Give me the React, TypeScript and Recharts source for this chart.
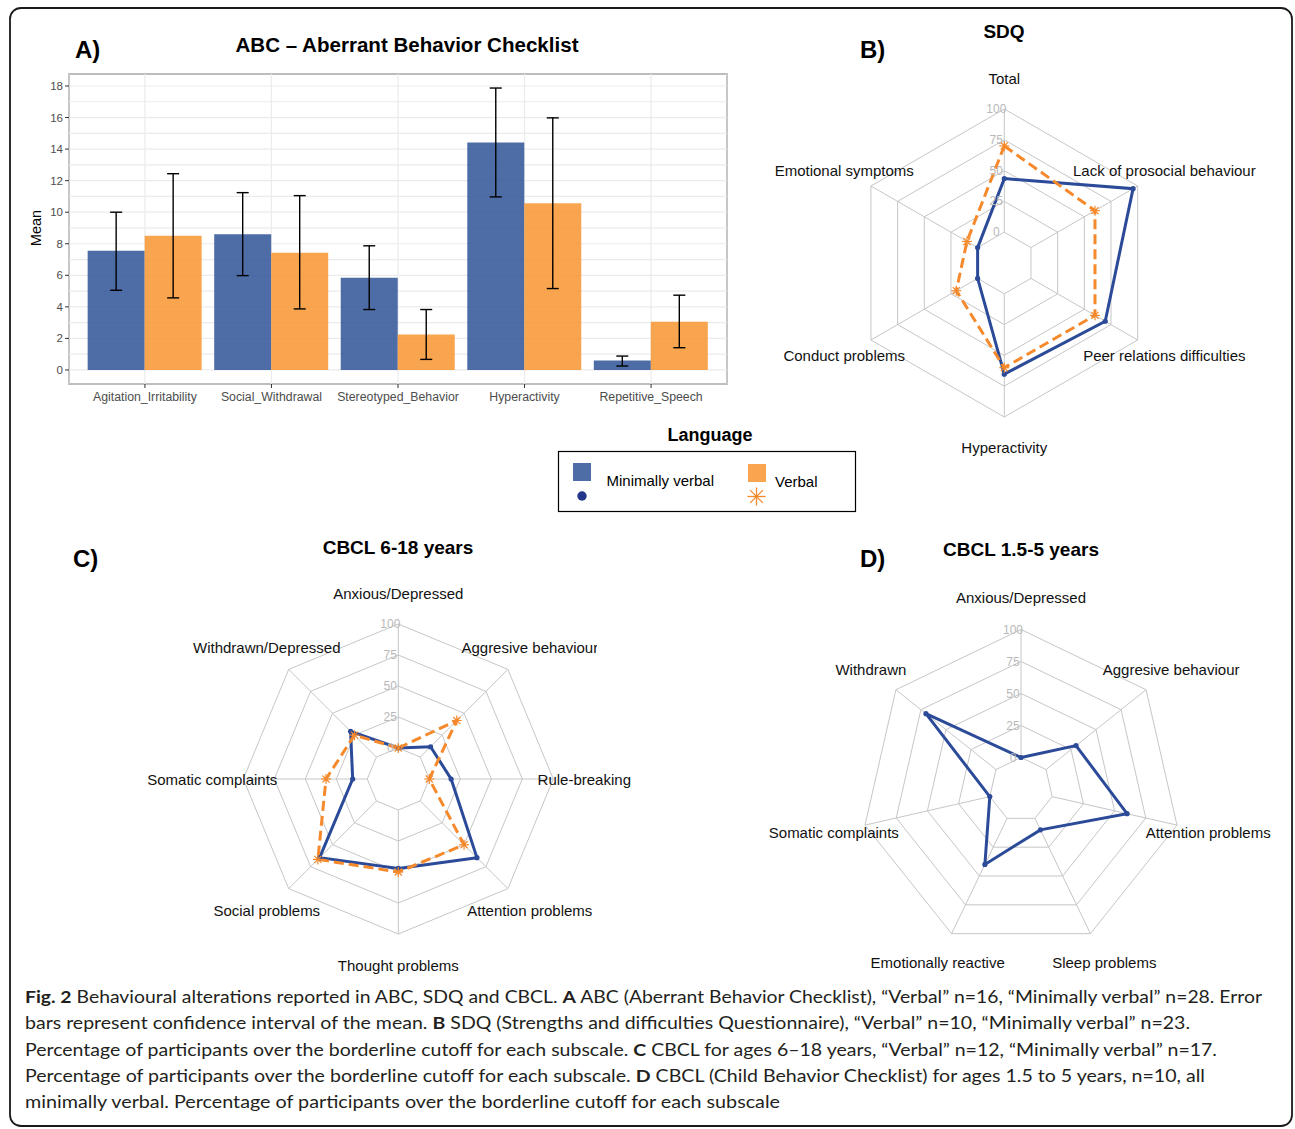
import React from "react";
import {
  BarChart,
  Bar,
  XAxis,
  YAxis,
  CartesianGrid,
  ErrorBar,
  RadarChart,
  Radar,
  PolarGrid,
  PolarAngleAxis,
  PolarRadiusAxis,
} from "recharts";

// ---------------- DATA ----------------
const abcCategories = [
  "Agitation_Irritability",
  "Social_Withdrawal",
  "Stereotyped_Behavior",
  "Hyperactivity",
  "Repetitive_Speech",
];
const abcMinimalMean = [7.55, 8.6, 5.85, 14.42, 0.6];
const abcMinimalLow = [5.05, 5.98, 3.83, 10.97, 0.25];
const abcMinimalHigh = [10.0, 11.24, 7.87, 17.87, 0.88];
const abcVerbalMean = [8.5, 7.43, 2.25, 10.57, 3.05];
const abcVerbalLow = [4.57, 3.87, 0.67, 5.16, 1.41];
const abcVerbalHigh = [12.44, 11.05, 3.83, 15.98, 4.74];
const abcYTicks = [0, 1, 2, 3, 4, 5, 6, 7, 8, 9, 10, 11, 12, 13, 14, 15, 16, 17, 18];

const sdqAxes = [
  "Total",
  "Lack of prosocial behaviour",
  "Peer relations difficulties",
  "Hyperactivity",
  "Conduct problems",
  "Emotional symptoms",
];
const sdqMinimal = [43.5, 95.7, 69.6, 65.2, 0, 0];
const sdqVerbal = [70, 60, 60, 60, 20, 10];

const cbclOlderAxes = [
  "Anxious/Depressed",
  "Aggresive behaviour",
  "Rule-breaking",
  "Attention problems",
  "Thought problems",
  "Social problems",
  "Somatic complaints",
  "Withdrawn/Depressed",
];
const cbclOlderMinimal = [0, 11.8, 17.6, 64.7, 47.1, 64.7, 11.8, 29.4];
const cbclOlderVerbal = [0, 41.7, 0, 50, 50, 66.7, 33.3, 25];

const cbclYoungAxes = [
  "Anxious/Depressed",
  "Aggresive behaviour",
  "Attention problems",
  "Sleep problems",
  "Emotionally reactive",
  "Somatic complaints",
  "Withdrawn",
];
const cbclYoungMinimal = [0, 30, 60, 10, 40, 0, 70];

const radarTicks = [0, 25, 50, 75, 100];

// ---------------- STYLE ----------------
const FONT = '"Liberation Sans", Arial, Helvetica, sans-serif';
const CAPTION_FONT = 'Lato, "Open Sans", sans-serif';
const BLUE_BAR = "#2F5496";
const ORANGE_BAR = "#F8942F";
const BLUE_LINE = "#2B4A98";
const ORANGE_LINE = "#F5892B";
const GRID = "#C6C6C6";

const abcData = abcCategories.map((name, i) => ({
  pos: i + 1,
  name,
  minimal: abcMinimalMean[i],
  minimalErr: [abcMinimalMean[i] - abcMinimalLow[i], abcMinimalHigh[i] - abcMinimalMean[i]],
  verbal: abcVerbalMean[i],
  verbalErr: [abcVerbalMean[i] - abcVerbalLow[i], abcVerbalHigh[i] - abcVerbalMean[i]],
}));

const PLOT_LEFT = 69;
const PLOT_BOTTOM = 384;

const YTick = (props: any) => {
  const { y, payload } = props;
  if (payload.value % 2 !== 0) return <g />;
  return (
    <g>
      <line x1={PLOT_LEFT - 4} x2={PLOT_LEFT} y1={y} y2={y} stroke="#333" strokeWidth={1} />
      <text x={PLOT_LEFT - 6} y={y} textAnchor="end" dominantBaseline="central" fontSize={11.5} fill="#4D4D4D" fontFamily={FONT}>
        {payload.value}
      </text>
    </g>
  );
};

const XTick = (props: any) => {
  const { x, payload } = props;
  return (
    <g>
      <line x1={x} x2={x} y1={PLOT_BOTTOM} y2={PLOT_BOTTOM + 4} stroke="#333" strokeWidth={1} />
      <text x={x} y={PLOT_BOTTOM + 13} textAnchor="middle" dominantBaseline="central" fontSize={12.3} fill="#4D4D4D" fontFamily={FONT}>
        {abcCategories[payload.value - 1]}
      </text>
    </g>
  );
};

function makeAngleTick(cx: number, cy: number, R: number) {
  return (props: any) => {
    const { x, y, payload, index } = props;
    const dx = x - cx;
    const dy = y - cy;
    const len = Math.hypot(dx, dy) || 1;
    const lx = cx + (dx / len) * 1.2 * R;
    const ly = cy + (dy / len) * 1.2 * R;
    return (
      <text key={index} x={lx} y={ly} textAnchor="middle" dominantBaseline="central" fontSize={15} fill="#111" fontFamily={FONT}>
        {payload.value}
      </text>
    );
  };
}

const RadiusTick = (props: any) => {
  const { x, y, payload, index } = props;
  return (
    <text key={index} x={x - 8} y={y} textAnchor="middle" dominantBaseline="central" fontSize={12} fill="#B9B9B9" fontFamily={FONT}>
      {payload.value}
    </text>
  );
};

const blueDot = (p: any) => (
  <circle key={`b${p.index}`} cx={p.cx} cy={p.cy} r={2.6} fill={BLUE_LINE} stroke="none" />
);

const Asterisk = ({ x, y, s, w }: { x: number; y: number; s: number; w: number }) => {
  const d = s * 0.7071;
  return (
    <g stroke={ORANGE_LINE} strokeWidth={w} fill="none">
      <line x1={x - s} y1={y} x2={x + s} y2={y} />
      <line x1={x} y1={y - s} x2={x} y2={y + s} />
      <line x1={x - d} y1={y - d} x2={x + d} y2={y + d} />
      <line x1={x - d} y1={y + d} x2={x + d} y2={y - d} />
    </g>
  );
};

const orangeDot = (p: any) => (
  <g key={`o${p.index}`}>
    <Asterisk x={p.cx} y={p.cy} s={5} w={1.2} />
  </g>
);

type Series = { key: string; values: number[]; color: string; dashed: boolean };

function RadarPanel({
  axes,
  series,
  cx,
  cy,
  R,
  width,
  height,
}: {
  axes: string[];
  series: Series[];
  cx: number;
  cy: number;
  R: number;
  width: number;
  height: number;
}) {
  const data = axes.map((a, i) => {
    const row: any = { axis: a };
    series.forEach((s) => (row[s.key] = s.values[i]));
    return row;
  });
  return (
    <RadarChart
      width={width}
      height={height}
      data={data}
      cx={cx}
      cy={cy}
      innerRadius={R / 5}
      outerRadius={R}
      startAngle={90}
      endAngle={-270}
      margin={{ top: 0, right: 0, bottom: 0, left: 0 }}
    >
      <PolarGrid gridType="polygon" stroke={GRID} strokeWidth={1} polarRadius={[1, 2, 3, 4, 5].map((k) => (k * R) / 5)} />
      <PolarAngleAxis dataKey="axis" tick={makeAngleTick(cx, cy, R)} tickLine={false} axisLine={false} />
      <PolarRadiusAxis
        angle={90}
        type="number"
        domain={[0, 100]}
        ticks={radarTicks as any}
        tick={RadiusTick}
        axisLine={false}
        tickLine={false}
      />
      {series.map((s) => (
        <Radar
          key={s.key}
          dataKey={s.key}
          stroke={s.color}
          strokeWidth={3}
          strokeDasharray={s.dashed ? "10 5" : undefined}
          fill="none"
          fillOpacity={0}
          dot={s.dashed ? orangeDot : blueDot}
          isAnimationActive={false}
        />
      ))}
    </RadarChart>
  );
}

const captionLines: { parts: { t: string; b?: boolean }[]; len: number }[] = [
  {
    parts: [
      { t: "Fig. 2", b: true },
      { t: " Behavioural alterations reported in ABC, SDQ and CBCL. " },
      { t: "A", b: true },
      { t: " ABC (Aberrant Behavior Checklist), \u201cVerbal\u201d n=16, \u201cMinimally verbal\u201d n=28. Error" },
    ],
    len: 1237,
  },
  {
    parts: [
      { t: "bars represent confidence interval of the mean. " },
      { t: "B", b: true },
      { t: " SDQ (Strengths and difficulties Questionnaire), \u201cVerbal\u201d n=10, \u201cMinimally verbal\u201d n=23." },
    ],
    len: 1165,
  },
  {
    parts: [
      { t: "Percentage of participants over the borderline cutoff for each subscale. " },
      { t: "C", b: true },
      { t: " CBCL for ages 6\u201318 years, \u201cVerbal\u201d n=12, \u201cMinimally verbal\u201d n=17." },
    ],
    len: 1192,
  },
  {
    parts: [
      { t: "Percentage of participants over the borderline cutoff for each subscale. " },
      { t: "D", b: true },
      { t: " CBCL (Child Behavior Checklist) for ages 1.5 to 5 years, n=10, all" },
    ],
    len: 1180,
  },
  {
    parts: [{ t: "minimally verbal. Percentage of participants over the borderline cutoff for each subscale" }],
    len: 755,
  },
];

export default function App() {
  return (
    <div style={{ position: "absolute", left: 0, top: 0, width: 1295, height: 1129, background: "#fff", overflow: "hidden" }}>
      {/* static overlay: border, titles, legend, caption */}
      <svg width={1295} height={1129} style={{ position: "absolute", left: 0, top: 0 }}>
        <rect x={10} y={8} width={1282} height={1118} rx={11} ry={11} fill="none" stroke="#1a1a1a" strokeWidth={1.8} />
        {/* Panel A */}
        <text x={75} y={57.5} fontSize={24} fontWeight="bold" fontFamily={FONT} fill="#000">A)</text>
        <text x={407} y={51.7} fontSize={19.5} fontWeight="bold" fontFamily={FONT} textAnchor="middle" fill="#000" textLength={343} lengthAdjust="spacingAndGlyphs">
          ABC – Aberrant Behavior Checklist
        </text>
        <text transform="translate(35.5,228) rotate(-90)" fontSize={14.5} fontFamily={FONT} textAnchor="middle" dominantBaseline="central" fill="#000">
          Mean
        </text>
        <rect x={69} y={74} width={658} height={310} fill="none" stroke="#333" strokeWidth={1.1} />
        {/* Panel B */}
        <text x={860} y={57.5} fontSize={24} fontWeight="bold" fontFamily={FONT} fill="#000">B)</text>
        <text x={1004} y={38.3} fontSize={19} fontWeight="bold" fontFamily={FONT} textAnchor="middle" fill="#000">SDQ</text>
        {/* Legend */}
        <text x={710} y={440.7} fontSize={18} fontWeight="bold" fontFamily={FONT} textAnchor="middle" fill="#000">Language</text>
        <rect x={558.5} y={451.5} width={297} height={60} fill="none" stroke="#000" strokeWidth={1.2} />
        <rect x={573} y={463} width={18} height={18} fill={BLUE_BAR} fillOpacity={0.85} />
        <circle cx={582} cy={496} r={4.7} fill="#22378A" />
        <text x={606.5} y={486} fontSize={15} fontFamily={FONT} fill="#000">Minimally verbal</text>
        <rect x={748} y={464} width={18} height={18} fill={ORANGE_BAR} fillOpacity={0.85} />
        <Asterisk x={756.5} y={496.5} s={9} w={1.3} />
        <text x={775} y={486.7} fontSize={15} fontFamily={FONT} fill="#000">Verbal</text>
        {/* Panel C */}
        <text x={73} y={567} fontSize={24} fontWeight="bold" fontFamily={FONT} fill="#000">C)</text>
        <text x={398} y={554} fontSize={19} fontWeight="bold" fontFamily={FONT} textAnchor="middle" fill="#000">CBCL 6-18 years</text>
        {/* Panel D */}
        <text x={860} y={567} fontSize={24} fontWeight="bold" fontFamily={FONT} fill="#000">D)</text>
        <text x={1021} y={556} fontSize={19} fontWeight="bold" fontFamily={FONT} textAnchor="middle" fill="#000">CBCL 1.5-5 years</text>
        {/* Caption */}
        {captionLines.map((line, li) => (
          <text
            key={li}
            x={25}
            y={1003.3 + li * 26.15}
            fontSize={17.5}
            fontFamily={CAPTION_FONT}
            fill="#231F20"
            textLength={line.len}
            lengthAdjust="spacingAndGlyphs"
            style={{ whiteSpace: "pre" }}
          >
            {line.parts.map((p, pi) => (
              <tspan key={pi} fontWeight={p.b ? "bold" : "normal"}>
                {p.t}
              </tspan>
            ))}
          </text>
        ))}
      </svg>

      {/* Panel A: bar chart */}
      <div style={{ position: "absolute", left: 0, top: 0 }}>
        <BarChart
          width={740}
          height={420}
          data={abcData}
          margin={{ top: 74, right: 13, bottom: 6, left: 20 }}
          barGap={0}
        >
          <CartesianGrid stroke="#EBEBEB" strokeWidth={1.2} />
          <XAxis
            dataKey="pos"
            type="number"
            domain={[0.4, 5.6]}
            ticks={[1, 2, 3, 4, 5]}
            allowDataOverflow
            interval={0}
            height={30}
            axisLine={false}
            tickLine={false}
            tick={XTick}
          />
          <YAxis
            type="number"
            domain={[-0.89, 18.76]}
            ticks={abcYTicks}
            allowDataOverflow
            interval={0}
            width={49}
            axisLine={false}
            tickLine={false}
            tick={YTick}
          />
          <Bar dataKey="minimal" fill={BLUE_BAR} fillOpacity={0.85} barSize={57} isAnimationActive={false}>
            <ErrorBar dataKey="minimalErr" direction="y" width={6} stroke="#000" strokeWidth={1.4} />
          </Bar>
          <Bar dataKey="verbal" fill={ORANGE_BAR} fillOpacity={0.85} barSize={57} isAnimationActive={false}>
            <ErrorBar dataKey="verbalErr" direction="y" width={6} stroke="#000" strokeWidth={1.4} />
          </Bar>
        </BarChart>
      </div>

      {/* Panel B: SDQ */}
      <div style={{ position: "absolute", left: 700, top: 60 }}>
        <RadarPanel
          axes={sdqAxes}
          series={[
            { key: "minimal", values: sdqMinimal, color: BLUE_LINE, dashed: false },
            { key: "verbal", values: sdqVerbal, color: ORANGE_LINE, dashed: true },
          ]}
          cx={304.3}
          cy={203}
          R={154}
          width={595}
          height={410}
        />
      </div>

      {/* Panel C: CBCL 6-18 (top-right label region clipped as in the original) */}
      <div
        style={{
          position: "absolute",
          left: 100,
          top: 570,
          width: 600,
          height: 420,
          clipPath: "polygon(0 0, 497px 0, 497px 110px, 600px 110px, 600px 420px, 0 420px)",
        }}
      >
        <RadarPanel
          axes={cbclOlderAxes}
          series={[
            { key: "minimal", values: cbclOlderMinimal, color: BLUE_LINE, dashed: false },
            { key: "verbal", values: cbclOlderVerbal, color: ORANGE_LINE, dashed: true },
          ]}
          cx={298.3}
          cy={209}
          R={155}
          width={600}
          height={420}
        />
      </div>

      {/* Panel D: CBCL 1.5-5 */}
      <div style={{ position: "absolute", left: 700, top: 575 }}>
        <RadarPanel
          axes={cbclYoungAxes}
          series={[{ key: "minimal", values: cbclYoungMinimal, color: BLUE_LINE, dashed: false }]}
          cx={321}
          cy={214.5}
          R={160}
          width={595}
          height={410}
        />
      </div>
    </div>
  );
}
